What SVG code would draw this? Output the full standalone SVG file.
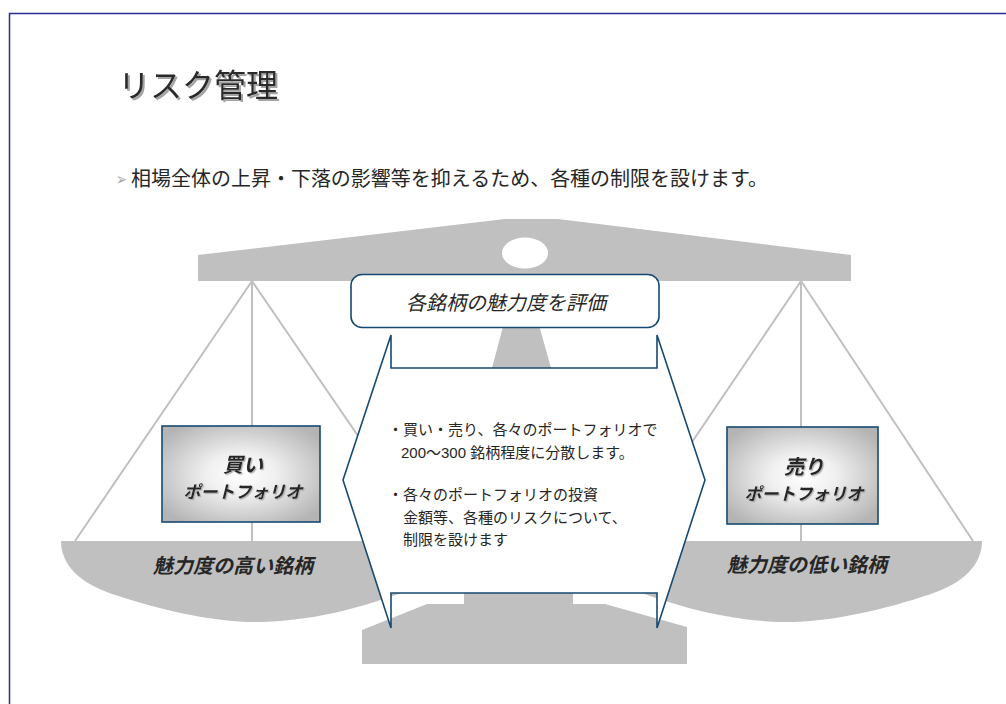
<svg xmlns="http://www.w3.org/2000/svg" width="1006" height="704" viewBox="0 0 1006 704">
  <defs>
    <style>
      .frame { fill: none; stroke: #2b2b96; stroke-width: 1.5; }
      .metal { fill: #c0c0c0; stroke: none; }
      .string { stroke: #c0c0c0; stroke-width: 2; fill: none; }
      .outline { stroke: #174a72; stroke-width: 1.6; }
      .jp { font-family: "Liberation Sans", "Noto Sans CJK JP", sans-serif; fill: #262626; }
      .title { font-size: 32px; fill: #2a2a2a; }
      .lead { font-size: 20px; }
      .note { font-size: 15px; }
      .label { font-style: italic; font-weight: bold; text-anchor: middle; }
      .eval { font-size: 20px; font-style: italic; text-anchor: middle; }
    </style>
    <radialGradient id="boxFill" cx="0.5" cy="0.5" r="0.62">
      <stop offset="0" stop-color="#ffffff"/>
      <stop offset="0.35" stop-color="#f0f0f0"/>
      <stop offset="1" stop-color="#b4b4b4"/>
    </radialGradient>
    <filter id="shadow" x="-10%" y="-20%" width="130%" height="150%">
      <feDropShadow dx="2" dy="2" stdDeviation="0.6" flood-color="#9a9a9a" flood-opacity="0.9"/>
    </filter>
    <filter id="softShadow" x="-10%" y="-20%" width="130%" height="150%">
      <feDropShadow dx="1.2" dy="1.2" stdDeviation="0.6" flood-color="#a0a0a0" flood-opacity="0.8"/>
    </filter>
  </defs>

  <!-- page frame -->
  <path class="frame" d="M1006,13.5 H9.5 V704"/>

  <!-- heading -->
  <g id="heading">
    <text class="jp title" x="118" y="97" filter="url(#shadow)">リスク管理</text>
    <text x="116" y="185" font-family="DejaVu Sans, sans-serif" font-size="17" fill="#a8a8a8" textLength="11" lengthAdjust="spacingAndGlyphs">➢</text>
    <text class="jp lead" x="131" y="186" textLength="637" lengthAdjust="spacingAndGlyphs">相場全体の上昇・下落の影響等を抑えるため、各種の制限を設けます。</text>
  </g>

  <!-- balance scale body -->
  <g id="scale">
    <polygon class="metal" points="198,255 505,219 558,219 851,255 851,281 198,281"/>
    <ellipse cx="525" cy="253" rx="23" ry="15.5" fill="#ffffff"/>
    <polygon class="metal" points="510,300 532,300 551,368 492,368"/>
    <polygon class="metal" points="362,630 427,604 464,604 464,593 573,593 573,604 605,604 687,627 687,664 362,664"/>
  </g>

  <!-- left pan with its strings -->
  <g id="left-pan">
    <path class="string" d="M252,281 L75,541 M252,281 V541 M252,281 L430,541"/>
    <path class="metal" d="M61,541 H430 V582 C370,606 320,620 262,622 C215,623 160,610 112,594 C80,583 61,565 61,541 Z"/>
    <text class="jp label" x="233" y="573" font-size="20">魅力度の高い銘柄</text>
  </g>

  <!-- right pan with its strings -->
  <g id="right-pan">
    <path class="string" d="M801,281 L973,541 M801,281 V541 M801,281 L625,541"/>
    <path class="metal" d="M982,541 H613 V582 C673,606 723,620 781,622 C828,623 883,610 931,594 C963,583 982,565 982,541 Z"/>
    <text class="jp label" x="807" y="572" font-size="20">魅力度の低い銘柄</text>
  </g>

  <!-- buy portfolio -->
  <g id="buy-box">
    <rect x="162" y="426" width="158" height="96" fill="url(#boxFill)" class="outline"/>
    <text class="jp label" x="243" y="472" font-size="20" filter="url(#softShadow)">買い</text>
    <text class="jp label" x="243" y="498" font-size="17" filter="url(#softShadow)">ポートフォリオ</text>
  </g>

  <!-- sell portfolio -->
  <g id="sell-box">
    <rect x="727" y="427" width="151" height="97" fill="url(#boxFill)" class="outline"/>
    <text class="jp label" x="804" y="474" font-size="20" filter="url(#softShadow)">売り</text>
    <text class="jp label" x="804" y="500" font-size="17" filter="url(#softShadow)">ポートフォリオ</text>
  </g>

  <!-- central policy panel -->
  <g id="policy">
    <polygon class="outline" fill="#ffffff" stroke-linejoin="miter"
      points="391,335 391,368 657,368 657,335 705,480 657,628 657,593 391,593 391,628 343,480"/>
    <text class="jp note" x="388" y="435">・買い・売り、各々のポートフォリオで</text>
    <text class="jp note" x="401" y="458">200～300 銘柄程度に分散します。</text>
    <text class="jp note" x="388" y="500">・各々のポートフォリオの投資</text>
    <text class="jp note" x="403" y="523">金額等、各種のリスクについて、</text>
    <text class="jp note" x="403" y="545">制限を設けます</text>
  </g>

  <!-- evaluation header -->
  <g id="evaluate">
    <rect x="351" y="274.5" width="308" height="53" rx="11" fill="#ffffff" class="outline"/>
    <text class="jp eval" x="506" y="310">各銘柄の魅力度を評価</text>
  </g>
</svg>
